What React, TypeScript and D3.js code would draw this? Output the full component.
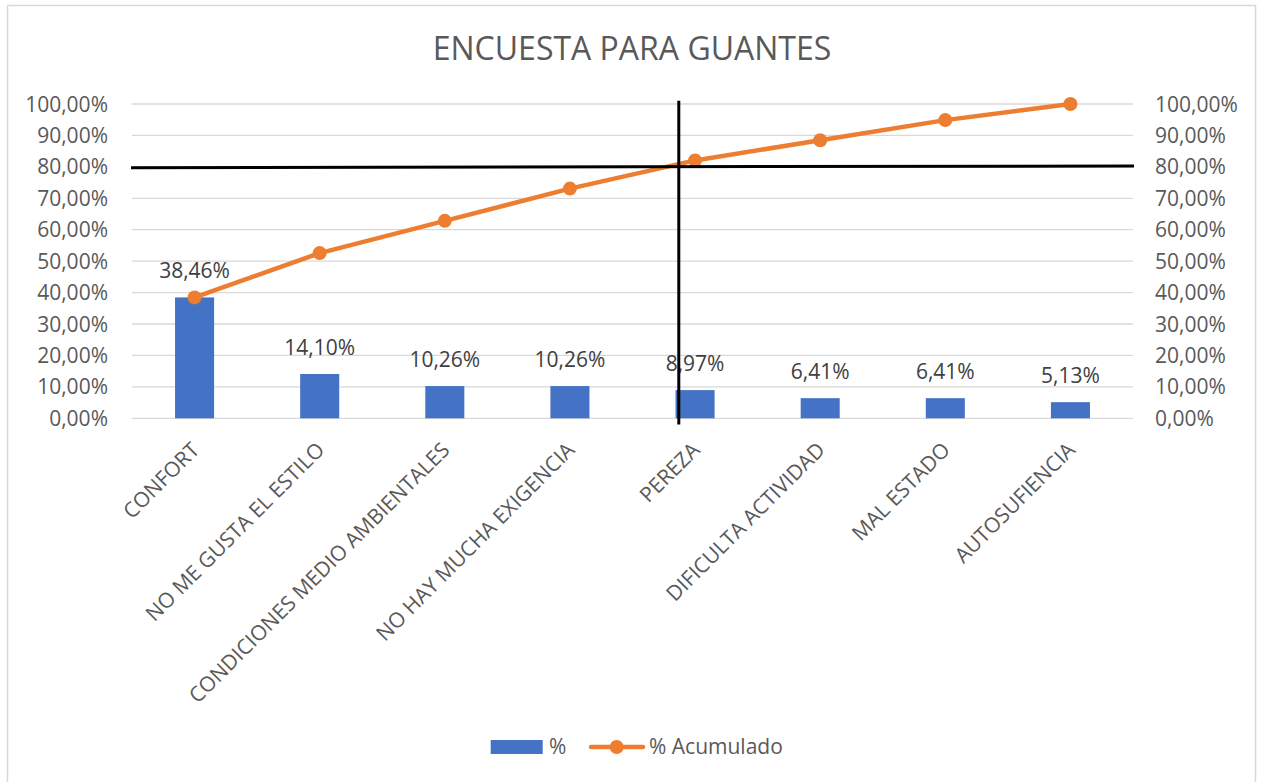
import React from "react";
import * as d3 from "d3";

const categories = [
  "CONFORT",
  "NO ME GUSTA EL ESTILO",
  "CONDICIONES MEDIO AMBIENTALES",
  "NO HAY MUCHA EXIGENCIA",
  "PEREZA",
  "DIFICULTA ACTIVIDAD",
  "MAL ESTADO",
  "AUTOSUFIENCIA",
];
const pctValues = [38.46, 14.1, 10.26, 10.26, 8.97, 6.41, 6.41, 5.13];
const cumValues = [38.46, 52.56, 62.82, 73.08, 82.05, 88.46, 94.87, 100.0];
const yTicks = [0, 10, 20, 30, 40, 50, 60, 70, 80, 90, 100];
const title = "ENCUESTA PARA GUANTES";
const legendBar = "%";
const legendLine = "% Acumulado";
// annotation lines drawn on the chart (data space)
const thresholdLeft = 79.7;
const thresholdRight = 80.3;
const cutBandPos = 4.37; // in band units from left edge
const cutTop = 101;
const cutBottom = -2;

const W = 1262;
const H = 782;
const FONT = "'Open Sans', 'Liberation Sans', sans-serif";
const FS = 21;

const fmt = (v: number) => d3.format(".2f")(v).replace(".", ",") + "%";

export default function App() {
  const left = 132;
  const right = 1133;
  const x = d3.scaleBand<string>().domain(categories).range([left, right]).padding(0);
  const y = d3.scaleLinear().domain([0, 100]).range([418.3, 104]);
  const bw = x.bandwidth() * 0.312;
  const cx = (c: string) => (x(c) as number) + x.bandwidth() / 2;
  const line = d3
    .line<number>()
    .x((_, i) => cx(categories[i]))
    .y((d) => y(d));
  const xPos = d3.scaleLinear().domain([0, categories.length]).range([left, right]);

  return (
    <svg
      width={W}
      height={H}
      style={{ position: "absolute", left: 0, top: 0, background: "#fff" }}
      fontFamily={FONT}
    >
      <rect x={7.5} y={5.5} width={1248} height={800} fill="#fff" stroke="#d9d9d9" strokeWidth={1.5} />
      <text x={632} y={60} textAnchor="middle" fontSize={32} fill="#595959">
        {title}
      </text>
      {yTicks.map((t) => (
        <g key={t}>
          <line x1={left} x2={right} y1={y(t)} y2={y(t)} stroke="#d9d9d9" strokeWidth={1.3} />
          <text x={108} y={y(t)} dy="0.36em" textAnchor="end" fontSize={FS} fill="#595959">
            {fmt(t)}
          </text>
          <text x={1155} y={y(t)} dy="0.36em" textAnchor="start" fontSize={FS} fill="#595959">
            {fmt(t)}
          </text>
        </g>
      ))}
      {categories.map((c, i) => (
        <g key={c}>
          <rect x={cx(c) - bw / 2} y={y(pctValues[i])} width={bw} height={y(0) - y(pctValues[i])} fill="#4472C4" />
          <text x={cx(c)} y={y(pctValues[i]) - 19} textAnchor="middle" fontSize={FS} fill="#404040">
            {fmt(pctValues[i])}
          </text>
          <text
            transform={`translate(${cx(c) + 6},${y(0) + 33}) rotate(-45)`}
            textAnchor="end"
            fontSize={FS}
            fill="#595959"
          >
            {c}
          </text>
        </g>
      ))}
      <path d={line(cumValues) || ""} fill="none" stroke="#ED7D31" strokeWidth={4.5} strokeLinejoin="round" strokeLinecap="round" />
      {cumValues.map((v, i) => (
        <circle key={i} cx={cx(categories[i])} cy={y(v)} r={7} fill="#ED7D31" />
      ))}
      <line x1={left - 1} x2={right + 1} y1={y(thresholdLeft)} y2={y(thresholdRight)} stroke="#000" strokeWidth={3} />
      <line x1={xPos(cutBandPos)} x2={xPos(cutBandPos)} y1={y(cutTop)} y2={y(cutBottom)} stroke="#000" strokeWidth={3} />
      <g>
        <rect x={490.7} y={740} width={52} height={14} fill="#4472C4" />
        <text x={549} y={754} fontSize={FS} fill="#595959">
          {legendBar}
        </text>
        <line x1={591} x2={643} y1={747} y2={747} stroke="#ED7D31" strokeWidth={4.5} strokeLinecap="round" />
        <circle cx={616.7} cy={747} r={7} fill="#ED7D31" />
        <text x={649} y={754} fontSize={FS} fill="#595959">
          {legendLine}
        </text>
      </g>
    </svg>
  );
}
